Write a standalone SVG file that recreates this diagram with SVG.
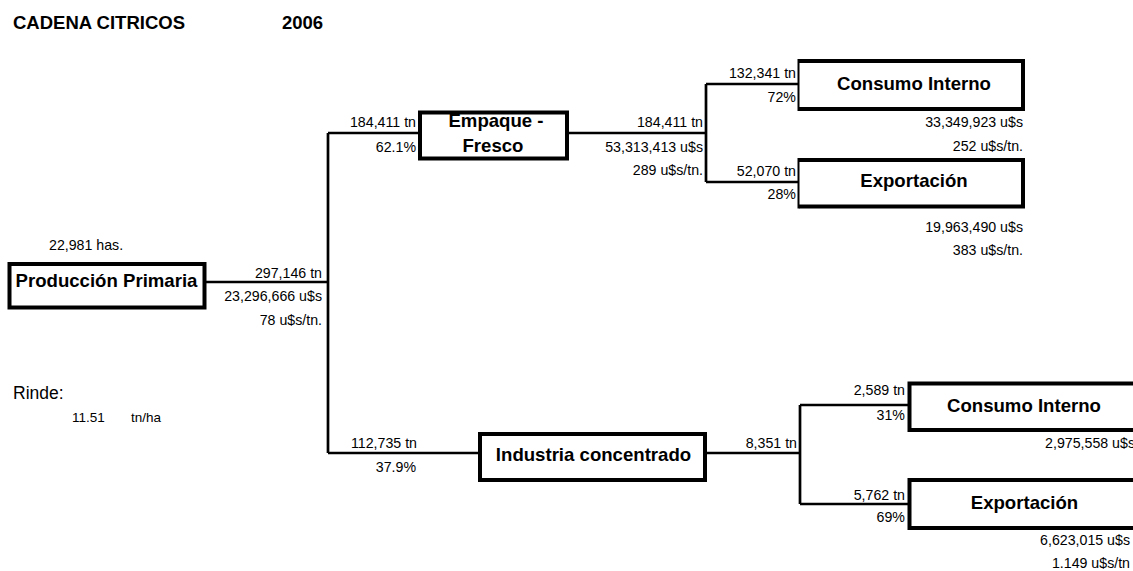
<svg xmlns="http://www.w3.org/2000/svg" width="1133" height="571" viewBox="0 0 1133 571">
<style>
.bg{fill:#fff}
.box{fill:#fff;stroke:#000;stroke-width:4}
.thin{stroke:#000;stroke-width:2;fill:none}
.con{stroke:#000;stroke-width:2.7;fill:none}
.bt{font-family:"Liberation Sans",Arial,sans-serif;font-weight:bold;font-size:18.6px;fill:#000;text-anchor:middle}
.lb{font-family:"Liberation Sans",Arial,sans-serif;font-size:14.2px;fill:#000}
.r{text-anchor:end}
.title{font-family:"Liberation Sans",Arial,sans-serif;font-weight:bold;font-size:18.5px;fill:#000}
</style>
<rect class="bg" x="0" y="0" width="1133" height="571"/>
<g id="title">
<text class="title" x="13" y="29">CADENA CITRICOS</text>
<text class="title" x="282" y="29">2006</text>
</g>
<g id="connectors">
<path class="con" d="M205,282 H328 M328,133 V453 M328,133 H420 M567,133 H706 M706,84 V182 M706,84 H799 M706,182 H799 M328,453 H480 M705,453 H800 M800,405 V504 M800,405 H909 M800,504 H909"/>
</g>
<g id="produccion-primaria">
<rect class="box" x="9.5" y="264" width="195" height="43.5"/>
<text class="bt" x="106.5" y="287">Producción Primaria</text>
</g>
<g id="empaque-fresco">
<rect class="box" x="420" y="112.5" width="147" height="46"/>
<text class="bt" x="496" y="127">Empaque -</text>
<text class="bt" x="493" y="152">Fresco</text>
</g>
<g id="consumo-interno-fresco">
<path class="box" d="M799,61 H1023 V109 H799"/>
<line class="thin" x1="798.5" y1="59" x2="798.5" y2="111"/>
<text class="bt" x="914" y="90">Consumo Interno</text>
</g>
<g id="exportacion-fresco">
<path class="box" d="M799,160 H1023 V206.5 H799"/>
<line class="thin" x1="798.5" y1="158" x2="798.5" y2="208.5"/>
<text class="bt" x="914" y="187">Exportación</text>
</g>
<g id="industria-concentrado">
<rect class="box" x="480" y="434" width="225" height="46"/>
<text class="bt" x="593.5" y="461">Industria concentrado</text>
</g>
<g id="consumo-interno-industria">
<path class="box" d="M1140,383.5 H909.5 V430 H1140"/>
<text class="bt" x="1024" y="412">Consumo Interno</text>
</g>
<g id="exportacion-industria">
<path class="box" d="M1140,480 H909.5 V528 H1140"/>
<text class="bt" x="1024.5" y="509">Exportación</text>
</g>
<g id="labels">
<text class="lb" x="49" y="250">22,981 has.</text>
<text class="lb r" x="322" y="278">297,146 tn</text>
<text class="lb r" x="322" y="301">23,296,666 u$s</text>
<text class="lb r" x="322" y="325">78 u$s/tn.</text>
<text class="lb r" x="416" y="127">184,411 tn</text>
<text class="lb r" x="416" y="152">62.1%</text>
<text class="lb r" x="703" y="127">184,411 tn</text>
<text class="lb r" x="703" y="152">53,313,413 u$s</text>
<text class="lb r" x="703" y="175">289 u$s/tn.</text>
<text class="lb r" x="796" y="78">132,341 tn</text>
<text class="lb r" x="796" y="102">72%</text>
<text class="lb r" x="1023" y="127">33,349,923 u$s</text>
<text class="lb r" x="1023" y="151">252 u$s/tn.</text>
<text class="lb r" x="796" y="176">52,070 tn</text>
<text class="lb r" x="796" y="199">28%</text>
<text class="lb r" x="1023" y="232">19,963,490 u$s</text>
<text class="lb r" x="1023" y="255">383 u$s/tn.</text>
<text class="lb r" x="417" y="448">112,735 tn</text>
<text class="lb r" x="416" y="472">37.9%</text>
<text class="lb r" x="797" y="448">8,351 tn</text>
<text class="lb r" x="905" y="395">2,589 tn</text>
<text class="lb r" x="905" y="420">31%</text>
<text class="lb r" x="1135" y="448">2,975,558 u$s</text>
<text class="lb r" x="905" y="500">5,762 tn</text>
<text class="lb r" x="905" y="522">69%</text>
<text class="lb r" x="1130" y="545">6,623,015 u$s</text>
<text class="lb r" x="1130" y="568">1.149 u$s/tn</text>
<text style="font-family:'Liberation Sans',Arial,sans-serif;font-size:17.5px" x="13" y="399">Rinde:</text>
<text style="font-family:'Liberation Sans',Arial,sans-serif;font-size:13.5px" x="72" y="422">11.51</text>
<text style="font-family:'Liberation Sans',Arial,sans-serif;font-size:13.5px" x="131" y="422">tn/ha</text>
</g>
</svg>
